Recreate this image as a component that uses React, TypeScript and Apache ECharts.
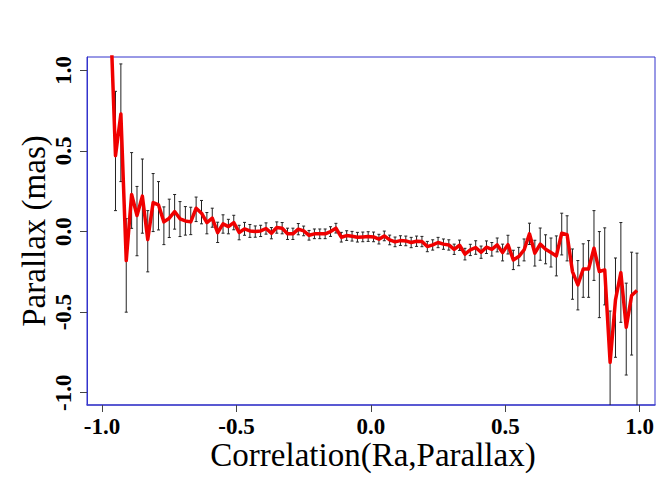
import React, { useEffect, useRef } from "react";
import * as echarts from "echarts";

const corr = [
  -0.97, -0.95, -0.93, -0.91, -0.89, -0.87, -0.85, -0.83, -0.81, -0.79,
  -0.77, -0.75, -0.73, -0.71, -0.69, -0.67, -0.65, -0.63, -0.61, -0.59,
  -0.57, -0.55, -0.53, -0.51, -0.49, -0.47, -0.45, -0.43, -0.41, -0.39,
  -0.37, -0.35, -0.33, -0.31, -0.29, -0.27, -0.25, -0.23, -0.21, -0.19,
  -0.17, -0.15, -0.13, -0.11, -0.09, -0.07, -0.05, -0.03, -0.01, 0.01,
  0.03, 0.05, 0.07, 0.09, 0.11, 0.13, 0.15, 0.17, 0.19, 0.21,
  0.23, 0.25, 0.27, 0.29, 0.31, 0.33, 0.35, 0.37, 0.39, 0.41,
  0.43, 0.45, 0.47, 0.49, 0.51, 0.53, 0.55, 0.57, 0.59, 0.61,
  0.63, 0.65, 0.67, 0.69, 0.71, 0.73, 0.75, 0.77, 0.79, 0.81,
  0.83, 0.85, 0.87, 0.89, 0.91, 0.93, 0.95, 0.97, 0.99,
];

const parallax = [
  1.4, 0.47, 0.73, -0.18, 0.23, 0.1, 0.22, -0.05, 0.18, 0.165,
  0.06, 0.083, 0.124, 0.079, 0.066, 0.06, 0.145, 0.114, 0.056, 0.083,
  -0.006, 0.048, 0.031, 0.056, -0.006, 0.017, 0.004, 0.0, 0.004, 0.019,
  -0.01, 0.025, 0.021, -0.014, -0.014, 0.015, 0.004, -0.023, -0.014, -0.014,
  -0.014, 0.0, 0.021, -0.035, -0.025, -0.029, -0.035, -0.033, -0.031, -0.033,
  -0.047, -0.027, -0.052, -0.064, -0.056, -0.058, -0.068, -0.06, -0.062, -0.093,
  -0.083, -0.068, -0.078, -0.083, -0.11, -0.085, -0.14, -0.114, -0.099, -0.128,
  -0.097, -0.11, -0.083, -0.13, -0.081, -0.176, -0.155, -0.114, -0.014, -0.134,
  -0.078, -0.11, -0.13, -0.151, -0.01, -0.02, -0.248, -0.331, -0.232, -0.232,
  -0.103, -0.248, -0.238, -0.811, -0.424, -0.255, -0.594, -0.397, -0.366,
];

const errUp = [
  0.3, 0.4, 0.31, 0.26, 0.26, 0.18, 0.23, 0.18, 0.18, 0.145,
  0.093, 0.118, 0.106, 0.107, 0.089, 0.091, 0.069, 0.079, 0.062, 0.062,
  0.064, 0.056, 0.045, 0.045, 0.045, 0.04, 0.04, 0.035, 0.035, 0.035,
  0.035, 0.035, 0.035, 0.035, 0.035, 0.035, 0.03, 0.03, 0.03, 0.03,
  0.03, 0.03, 0.03, 0.03, 0.03, 0.03, 0.03, 0.03, 0.03, 0.03,
  0.03, 0.03, 0.03, 0.03, 0.03, 0.03, 0.032, 0.032, 0.032, 0.032,
  0.032, 0.032, 0.032, 0.032, 0.032, 0.032, 0.036, 0.035, 0.042, 0.038,
  0.039, 0.042, 0.043, 0.052, 0.058, 0.06, 0.057, 0.068, 0.066, 0.08,
  0.1, 0.09, 0.09, 0.124, 0.124, 0.118, 0.14, 0.151, 0.156, 0.176,
  0.233, 0.248, 0.261, 0.318, 0.26, 0.311, 0.274, 0.269, 0.232,
];

const errDown = [
  0.3, 0.34, 0.42, 0.32, 0.21, 0.25, 0.23, 0.2, 0.18, 0.155,
  0.141, 0.12, 0.109, 0.11, 0.088, 0.079, 0.083, 0.066, 0.07, 0.056,
  0.062, 0.058, 0.045, 0.045, 0.045, 0.04, 0.04, 0.035, 0.035, 0.035,
  0.035, 0.035, 0.035, 0.035, 0.035, 0.035, 0.03, 0.03, 0.03, 0.03,
  0.03, 0.03, 0.03, 0.03, 0.03, 0.03, 0.03, 0.03, 0.03, 0.03,
  0.03, 0.03, 0.03, 0.03, 0.03, 0.03, 0.032, 0.032, 0.032, 0.032,
  0.032, 0.032, 0.032, 0.032, 0.032, 0.032, 0.036, 0.035, 0.042, 0.038,
  0.039, 0.042, 0.043, 0.052, 0.058, 0.06, 0.057, 0.068, 0.066, 0.08,
  0.1, 0.09, 0.09, 0.124, 0.135, 0.162, 0.172, 0.155, 0.176, 0.176,
  0.2, 0.286, 0.217, 0.35, 0.356, 0.308, 0.296, 0.369, 0.75,
];

const xTicks = [-1.0, -0.5, 0.0, 0.5, 1.0];
const yTicks = [-1.0, -0.5, 0.0, 0.5, 1.0];

const SERIF = "'Liberation Serif', 'Times New Roman', serif";

export default function App() {
  const ref = useRef<HTMLDivElement>(null);

  useEffect(() => {
    if (!ref.current) return;
    const chart = echarts.init(ref.current, null, { renderer: "svg" });

    const lineData = corr.map((x, i) => [x, parallax[i]]);
    const barData = corr.map((x, i) => [
      x,
      parallax[i] - errDown[i],
      parallax[i] + errUp[i],
    ]);

    const tickStyle = { color: "#444", width: 1 };
    const labelStyle = {
      fontFamily: SERIF,
      fontWeight: "bold" as const,
      fontSize: 23,
      color: "#000",
    };

    chart.setOption({
      animation: false,
      backgroundColor: "#fff",
      grid: {
        left: 87,
        right: 15,
        top: 57,
        bottom: 73,
        show: true,
        borderColor: "#3333cc",
        borderWidth: 1,
        backgroundColor: "transparent",
      },
      xAxis: {
        type: "value",
        min: -1.056,
        max: 1.057,
        axisLine: { show: true, onZero: false, lineStyle: { color: "#4444cc", width: 1.5 } },
        axisTick: {
          show: true,
          length: 7,
          inside: false,
          customValues: xTicks,
          lineStyle: tickStyle,
        },
        axisLabel: {
          ...labelStyle,
          margin: 10,
          customValues: xTicks,
          formatter: (v: number) => v.toFixed(1),
        },
        splitLine: { show: false },
      },
      yAxis: {
        type: "value",
        min: -1.076,
        max: 1.083,
        axisLine: { show: true, onZero: false, lineStyle: { color: "#3333cc", width: 1 } },
        axisTick: {
          show: true,
          length: 7,
          inside: false,
          customValues: yTicks,
          lineStyle: tickStyle,
        },
        axisLabel: {
          ...labelStyle,
          rotate: 90,
          margin: 12,
          customValues: yTicks,
          formatter: (v: number) => v.toFixed(1),
        },
        splitLine: { show: false },
      },
      graphic: [
        {
          type: "text",
          x: 373,
          y: 455,
          style: {
            text: "Correlation(Ra,Parallax)",
            font: `33px ${SERIF}`,
            fill: "#000",
            align: "center",
            verticalAlign: "middle",
          },
        },
        {
          type: "text",
          x: 34,
          y: 231,
          rotation: Math.PI / 2,
          style: {
            text: "Parallax (mas)",
            font: `33px ${SERIF}`,
            fill: "#000",
            align: "center",
            verticalAlign: "middle",
          },
        },
      ],
      series: [
        {
          type: "custom",
          name: "err",
          clip: true,
          z: 2,
          encode: { x: 0, y: [1, 2] },
          data: barData,
          renderItem: (params: any, api: any) => {
            const x = api.value(0);
            const lo = api.value(1);
            const hi = api.value(2);
            const top = api.coord([x, hi]);
            const bot = api.coord([x, lo]);
            const w = 1.5;
            const st = { stroke: "#222", lineWidth: 1 };
            return {
              type: "group",
              children: [
                { type: "line", shape: { x1: top[0], y1: top[1], x2: bot[0], y2: bot[1] }, style: st },
                { type: "line", shape: { x1: top[0] - w, y1: top[1], x2: top[0] + w, y2: top[1] }, style: st },
                { type: "line", shape: { x1: bot[0] - w, y1: bot[1], x2: bot[0] + w, y2: bot[1] }, style: st },
              ],
            };
          },
        },
        {
          type: "line",
          name: "parallax",
          data: lineData,
          showSymbol: false,
          symbol: "none",
          clip: true,
          z: 3,
          lineStyle: { color: "#f00000", width: 3.5, join: "round" },
        },
      ],
    });

    return () => chart.dispose();
  }, []);

  return (
    <div
      ref={ref}
      style={{ position: "fixed", left: 0, top: 0, width: 670, height: 478 }}
    />
  );
}
